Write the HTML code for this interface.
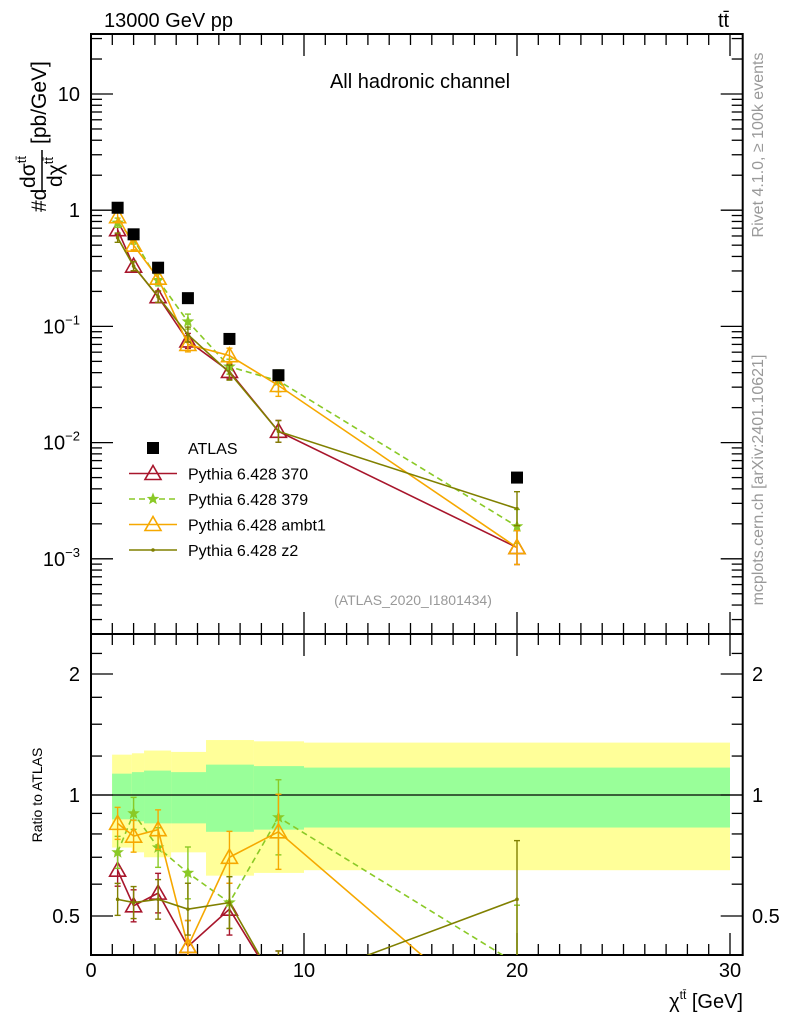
<!DOCTYPE html>
<html><head><meta charset="utf-8"><style>
html,body{margin:0;padding:0;background:#fff;overflow:hidden;width:786px;height:1024px;}
svg{display:block;font-family:"Liberation Sans",sans-serif;}
</style></head><body>
<svg id="c" width="786" height="1024" viewBox="0 0 786 1024" xmlns="http://www.w3.org/2000/svg">
<text x="104" y="27" font-size="20">13000 GeV pp</text>
<text x="718" y="27" font-size="20">tt̄</text>
<text x="420" y="88" font-size="20" text-anchor="middle">All hadronic channel</text>
<text x="413" y="605" font-size="14" fill="#999" text-anchor="middle">(ATLAS_2020_I1801434)</text>
<text transform="translate(763,145) rotate(-90)" font-size="16" fill="#999" text-anchor="middle">Rivet 4.1.0, ≥ 100k events</text>
<text transform="translate(763,480) rotate(-90)" font-size="16" fill="#999" text-anchor="middle">mcplots.cern.ch [arXiv:2401.10621]</text>
<g transform="translate(46,120) rotate(-90)">
<text x="-92" y="0" font-size="21" text-anchor="start">#d</text>
<text x="-52" y="-11" font-size="21" text-anchor="middle">dσ<tspan font-size="13" dy="-9">tt̄</tspan></text>
<line x1="-72" y1="-4" x2="-30" y2="-4" stroke="#000" stroke-width="1.5"/>
<text x="-52" y="16" font-size="21" text-anchor="middle">dχ<tspan font-size="13" dy="-9">tt̄</tspan></text>
<text x="-24" y="0" font-size="21">[pb/GeV]</text>
</g>
<text transform="translate(42,795) rotate(-90)" font-size="14" text-anchor="middle">Ratio to ATLAS</text>
<text x="743" y="1008" font-size="20" text-anchor="end">χ<tspan font-size="12" dy="-9">tt̄</tspan><tspan dy="9"> [GeV]</tspan></text>
<g id="g"></g>
</svg>
<script>
const xs=[1.25,2.0,3.15,4.55,6.5,8.8,20];
const atlas=[1.05,0.62,0.32,0.175,0.078,0.038,0.005];
const p370=[0.68,0.33,0.18,0.075,0.041,0.0125,0.00125];
const p379=[0.78,0.56,0.25,0.11,0.045,0.034,0.0019];
const pambt1=[0.88,0.5,0.26,0.07,0.056,0.031,0.00125];
const pz2=[0.58,0.33,0.18,0.085,0.04,0.0125,0.0027];
const relErr=[0.12,0.12,0.15,0.2,0.2,0.3,0.5];
const r370=[0.65,0.53,0.57,0.42,0.52,0.33,0.25];
const r379=[0.72,0.90,0.74,0.64,0.54,0.88,0.38];
const rambt1=[0.85,0.79,0.82,0.42,0.70,0.81,0.25];
const rz2=[0.55,0.54,0.55,0.52,0.54,0.33,0.55];
const binEdges=[0.99,1.92,2.49,3.76,5.4,7.65,10,30];
const yelHi=[1.26,1.27,1.29,1.28,1.37,1.36,1.35];
const grnHi=[1.13,1.14,1.15,1.14,1.19,1.18,1.17];
const grnLo=[0.87,0.86,0.85,0.85,0.81,0.82,0.83];
const yelLo=[0.74,0.72,0.70,0.72,0.63,0.64,0.65];
const NS='http://www.w3.org/2000/svg';
const g=document.getElementById('g');
const L=91,R=742.7,T=34,M=634,B=955;
const X=v=>L+21.3*v;
const Y=v=>210.2-116.2*Math.log10(v);
const YR=v=>795-121*Math.log2(v);
function el(t,a,p){const e=document.createElementNS(NS,t);for(const k in a)e.setAttribute(k,a[k]);(p||g).appendChild(e);return e;}
const defs=el('defs',{});
const cp1=el('clipPath',{id:'cm'},defs);el('rect',{x:L,y:T,width:R-L,height:M-T},cp1);
const cp2=el('clipPath',{id:'cr'},defs);el('rect',{x:L,y:M,width:R-L,height:B-M},cp2);
const bands=el('g',{'clip-path':'url(#cr)'});


for(let i=0;i<7;i++){
 const x1=X(binEdges[i]),x2=X(binEdges[i+1]);
 const yb=el('rect',{x:x1,y:YR(yelHi[i]),width:x2-x1,height:YR(yelLo[i])-YR(yelHi[i]),fill:'#ffff99'},bands);
 
 
 const gb=el('rect',{x:x1,y:YR(grnHi[i]),width:x2-x1,height:YR(grnLo[i])-YR(grnHi[i]),fill:'#99ff99'},bands);
 
 
}
el('line',{x1:L,x2:R,y1:YR(1),y2:YR(1),stroke:'#000','stroke-width':1.3});
for(const [y1,y2] of [[T,M],[M,B]]) el('rect',{x:L,y:y1,width:R-L,height:y2-y1,fill:'none',stroke:'#000','stroke-width':2});
for(let v=0;v<=30;v++){
 const x=X(v),len=v%10==0?22:11;
 for(const y of [M,B]) el('line',{x1:x,x2:x,y1:y,y2:y-len,stroke:'#000','stroke-width':1.3});
 for(const y of [T,M]) el('line',{x1:x,x2:x,y1:y,y2:y+len,stroke:'#000','stroke-width':1.3});
 if(v%10==0){const t=el('text',{x:x,y:977,'font-size':20,'text-anchor':'middle'});t.textContent=v;
 
 }
}
for(let d=-4;d<=1;d++){for(let m=1;m<10;m++){const v=m*Math.pow(10,d),y=Y(v);if(y<T||y>M)continue;
 const len=m==1?22:11;
 el('line',{x1:L,x2:L+len,y1:y,y2:y,stroke:'#000','stroke-width':1.3});
 el('line',{x1:R,x2:R-len,y1:y,y2:y,stroke:'#000','stroke-width':1.3});
 if(m==1){const t=el('text',{x:80,y:y+7,'font-size':20,'text-anchor':'end'});
  
  
  if(d==0)t.textContent='1';else if(d==1)t.textContent='10';else{t.innerHTML='10<tspan font-size="13" dy="-9">−'+(-d)+'</tspan>';}}
}}
const rt=[0.5,0.6,0.7,0.8,0.9,1,1.25,1.5,1.75,2,2.25];
for(const v of rt){const y=YR(v),maj=(v==0.5||v==1||v==2),len=maj?22:11;
 el('line',{x1:L,x2:L+len,y1:y,y2:y,stroke:'#000','stroke-width':1.3});
 el('line',{x1:R,x2:R-len,y1:y,y2:y,stroke:'#000','stroke-width':1.3});
 if(maj){for(const [x,a] of [[80,'end'],[752,'start']]){const t=el('text',{x:x,y:y+7,'font-size':20,'text-anchor':a});t.textContent=v;
  
  }}
}
function marker(type,x,y,col,p){
 if(type=='tri')el('path',{d:`M${x},${y-8}L${x+8},${y+6}L${x-8},${y+6}Z`,fill:'none',stroke:col,'stroke-width':1.6},p);
 else if(type=='star'){let d='';for(let k=0;k<10;k++){const r=k%2?2.3:5.5,a=-Math.PI/2+k*Math.PI/5;d+=(k?'L':'M')+(x+r*Math.cos(a)).toFixed(1)+','+(y+r*Math.sin(a)).toFixed(1);}el('path',{d:d+'Z',fill:col,stroke:col,'stroke-width':0.8},p);}
 else if(type=='dot')el('circle',{cx:x,cy:y,r:1.8,fill:col},p);
 else el('rect',{x:x-6,y:y-6,width:12,height:12,fill:'#000'},p);
}
const series=[
 {n:'pythia-370',v:p370,r:r370,c:'#a8162c',m:'tri',d:''},
 {n:'pythia-379',v:p379,r:r379,c:'#8ac926',m:'star',d:'6,4'},
 {n:'pythia-ambt1',v:pambt1,r:rambt1,c:'#f6a800',m:'tri',d:''},
 {n:'pythia-z2',v:pz2,r:rz2,c:'#808000',m:'dot',d:''}];
for(const s of series){
 for(const [arr,Yf,clip,tag] of [[s.v,Y,'cm','main'],[s.r,YR,'cr','ratio']]){
  const grp=el('g',{'clip-path':'url(#'+clip+')'});
  
  
  el('polyline',{points:xs.map((x,i)=>X(x)+','+Yf(arr[i])).join(' '),fill:'none',stroke:s.c,'stroke-width':1.6,'stroke-dasharray':s.d},grp);
  xs.forEach((x,i)=>{const v=arr[i],e=relErr[i]*0.8;const cx=X(x);
   const y1=Yf(v*(1+e)),y2=Yf(v/(1+e));
   el('line',{x1:cx,x2:cx,y1:y1,y2:y2,stroke:s.c,'stroke-width':1.4},grp);
   el('line',{x1:cx-3,x2:cx+3,y1:y1,y2:y1,stroke:s.c,'stroke-width':1.4},grp);
   el('line',{x1:cx-3,x2:cx+3,y1:y2,y2:y2,stroke:s.c,'stroke-width':1.4},grp);
   marker(s.m,cx,Yf(v),s.c,grp);});
 }
}
const ag=el('g',{'clip-path':'url(#cm)'});


xs.forEach((x,i)=>marker('sq',X(x),Y(atlas[i]),'#000',ag));
const lg=el('g',{});


const labels=['ATLAS','Pythia 6.428 370','Pythia 6.428 379','Pythia 6.428 ambt1','Pythia 6.428 z2'];
labels.forEach((lab,i)=>{const y=448+i*25.5;
 const it=el('g',{},lg);
 
 
 if(i==0)marker('sq',153,y,'#000',it);
 else{const s=series[i-1];el('line',{x1:129,x2:177,y1:y,y2:y,stroke:s.c,'stroke-width':1.6,'stroke-dasharray':s.d},it);marker(s.m,153,y,s.c,it);}
 const t=el('text',{x:188,y:y+6,'font-size':16},it);t.textContent=lab;});
</script>
</body></html>
